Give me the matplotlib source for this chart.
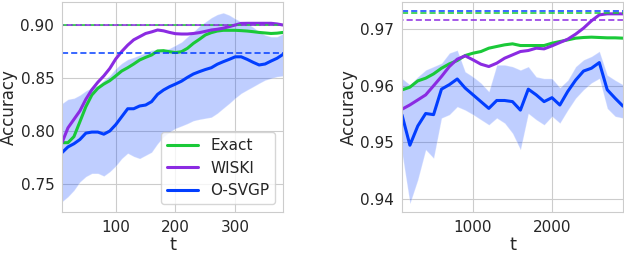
import numpy as np
import matplotlib
matplotlib.use("Agg")
import matplotlib.pyplot as plt
import seaborn as sns
from matplotlib.ticker import FormatStrFormatter

# ── data: left panel (small dataset) ─────────────────────────────
t_left = list(range(10, 390, 10))
exact_left = [0.789, 0.789, 0.7947, 0.8088, 0.823, 0.834, 0.8403, 0.8443, 0.8475, 0.852,
              0.8566, 0.8597, 0.8632, 0.867, 0.8695, 0.8717, 0.8755, 0.8758, 0.8748, 0.874,
              0.8748, 0.878, 0.8827, 0.8865, 0.8906, 0.8928, 0.8943, 0.895, 0.895, 0.895,
              0.8947, 0.8943, 0.8937, 0.893, 0.8925, 0.892, 0.8923, 0.893]
wiski_left = [0.789, 0.803, 0.811, 0.819, 0.830, 0.839, 0.846, 0.852, 0.859, 0.868,
              0.875, 0.881, 0.886, 0.889, 0.892, 0.8935, 0.8953, 0.8945, 0.893, 0.8918,
              0.8915, 0.8915, 0.892, 0.8928, 0.894, 0.8953, 0.896, 0.897, 0.8985, 0.900,
              0.9015, 0.9016, 0.9016, 0.9016, 0.9016, 0.9016, 0.901, 0.900]
svgp_left = [0.7796, 0.785, 0.788, 0.792, 0.798, 0.799, 0.799, 0.797, 0.800, 0.806,
             0.8135, 0.821, 0.821, 0.8236, 0.8245, 0.8277, 0.8346, 0.8387, 0.8418, 0.8443,
             0.847, 0.8506, 0.8538, 0.856, 0.858, 0.8597, 0.863, 0.8654, 0.8676, 0.870,
             0.870, 0.8676, 0.8648, 0.8623, 0.8632, 0.866, 0.8686, 0.8723]
svgp_left_hi = [0.826, 0.830, 0.831, 0.834, 0.838, 0.841, 0.843, 0.848, 0.8525, 0.859,
                0.864, 0.8676, 0.8695, 0.8717, 0.874, 0.8764, 0.877, 0.8765, 0.878, 0.881,
                0.884, 0.889, 0.8937, 0.899, 0.903, 0.907, 0.910, 0.9116, 0.9094, 0.906,
                0.903, 0.9016, 0.898, 0.8937, 0.8906, 0.889, 0.889, 0.892]
svgp_left_lo = [0.7333, 0.738, 0.744, 0.752, 0.757, 0.760, 0.760, 0.7575, 0.7616, 0.767,
                0.774, 0.779, 0.776, 0.774, 0.777, 0.780, 0.788, 0.7947, 0.799, 0.8025,
                0.8047, 0.807, 0.8097, 0.811, 0.812, 0.813, 0.8167, 0.8214, 0.826, 0.831,
                0.8355, 0.8387, 0.8418, 0.845, 0.848, 0.8497, 0.8513, 0.852]
# final (full-batch) reference accuracies, drawn dashed
ref_left = {"Exact": 0.8998, "WISKI": 0.8998, "O-SVGP": 0.8733}

# ── data: right panel (large dataset) ────────────────────────────
t_right = list(range(100, 3000, 100))
exact_right = [0.95927, 0.95975, 0.96086, 0.96134, 0.9621, 0.9631, 0.96387, 0.96446, 0.96534, 0.96576,
               0.96605, 0.96664, 0.96694, 0.96723, 0.96741, 0.96711, 0.96711, 0.96711, 0.96711, 0.96752,
               0.96782, 0.96811, 0.96841, 0.96853, 0.96859, 0.96853, 0.96847, 0.96847, 0.96841]
wiski_right = [0.95585, 0.95662, 0.9575, 0.95839, 0.9600, 0.96163, 0.9634, 0.9647, 0.96529, 0.96458,
               0.96381, 0.9634, 0.96399, 0.96487, 0.96546, 0.96605, 0.96623, 0.96664, 0.96652, 0.96705,
               0.96764, 0.96823, 0.96912, 0.97018, 0.97147, 0.97253, 0.97271, 0.97271, 0.97271]
svgp_right = [0.95485, 0.9495, 0.9529, 0.9551, 0.9549, 0.9594, 0.9602, 0.9612, 0.9596, 0.9584,
              0.9572, 0.9560, 0.9574, 0.9574, 0.9572, 0.9557, 0.9594, 0.9584, 0.9572, 0.9579,
              0.9566, 0.9590, 0.9610, 0.9626, 0.9631, 0.9641, 0.9593, 0.9578, 0.9564]
svgp_right_hi = [0.9613, 0.9602, 0.9616, 0.9628, 0.9634, 0.9640, 0.9658, 0.9663, 0.9625, 0.9616,
                 0.9605, 0.9590, 0.9637, 0.9637, 0.9634, 0.9628, 0.9634, 0.9616, 0.9613, 0.9613,
                 0.9597, 0.9610, 0.9634, 0.9646, 0.9652, 0.9661, 0.9619, 0.9610, 0.9602]
svgp_right_lo = [0.9481, 0.9392, 0.9434, 0.9487, 0.9472, 0.9543, 0.9549, 0.9563, 0.9557, 0.9549,
                 0.9540, 0.9531, 0.9543, 0.9534, 0.9516, 0.9487, 0.9551, 0.9540, 0.9531, 0.9546,
                 0.9534, 0.9557, 0.9578, 0.9593, 0.9605, 0.9613, 0.9560, 0.9546, 0.9543]
ref_right = {"Exact": 0.97289, "WISKI": 0.97165, "O-SVGP": 0.97324}

# ── style ────────────────────────────────────────────────────────
sns.set_style("whitegrid")
plt.rcParams["font.family"] = ["DejaVu Sans"]
pal = sns.color_palette("bright")
colors = {"Exact": pal[2], "WISKI": pal[4], "O-SVGP": pal[0]}
# green dashes sit in the gaps of the purple ones when they overlap
dash_styles = {"Exact": (0, (4, 2)), "WISKI": (3, (4, 2)), "O-SVGP": (0, (4, 2))}

fig = plt.figure(figsize=(6.24, 2.54), dpi=100)
ax1 = fig.add_axes([62 / 624, 1 - 212 / 254, 221 / 624, 210 / 254])
ax2 = fig.add_axes([402 / 624, 1 - 212 / 254, 221 / 624, 210 / 254])


def draw(ax, t, exact, wiski, svgp, lo, hi, refs):
    ax.fill_between(t, lo, hi, color=colors["O-SVGP"], alpha=0.25,
                    edgecolor="white", linewidth=0.8)
    ax.plot(t, exact, color=colors["Exact"], lw=2.2, label="Exact")
    ax.plot(t, wiski, color=colors["WISKI"], lw=2.2, label="WISKI")
    ax.plot(t, svgp, color=colors["O-SVGP"], lw=2.2, label="O-SVGP")
    for name, val in refs.items():
        ax.axhline(val, color=colors[name], ls=dash_styles[name], lw=1.1)
    ax.set_xlim(t[0], t[-1])
    ax.set_xlabel("t", fontsize=13, labelpad=1)
    ax.set_ylabel("Accuracy", fontsize=12, labelpad=2)
    ax.tick_params(labelsize=11, pad=2)
    ax.yaxis.set_major_formatter(FormatStrFormatter("%.2f"))


draw(ax1, t_left, exact_left, wiski_left, svgp_left, svgp_left_lo, svgp_left_hi, ref_left)
ax1.set_ylim(0.7236, 0.9217)
ax1.set_xticks([100, 200, 300])
ax1.set_yticks([0.75, 0.80, 0.85, 0.90])
ax1.legend(loc="lower right", fontsize=11, handlelength=2.0, borderaxespad=0.5)

draw(ax2, t_right, exact_right, wiski_right, svgp_right, svgp_right_lo, svgp_right_hi, ref_right)
ax2.set_ylim(0.9377, 0.9748)
ax2.set_xticks([1000, 2000])
ax2.set_yticks([0.94, 0.95, 0.96, 0.97])

fig.savefig("out.png", dpi=100, facecolor="white")
